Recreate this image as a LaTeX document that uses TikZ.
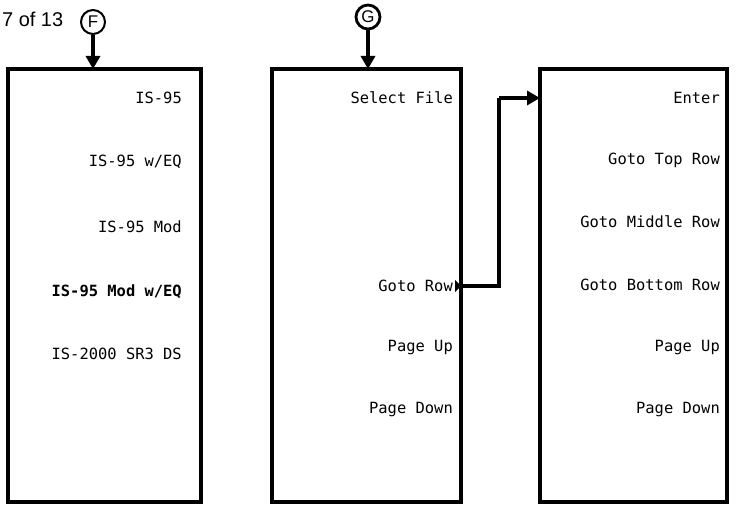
\documentclass[tikz,border=0pt]{standalone}
\usepackage{fontspec}
\setmainfont{Liberation Sans}
\newfontfamily\lcd{DejaVu Sans Mono}
\usetikzlibrary{arrows.meta}
\begin{document}
\begin{tikzpicture}[x=1bp,y=-1bp,
  menubox/.style={draw,line width=3.2bp,inner sep=0pt},
  key/.style={anchor=east,inner sep=0pt,font=\lcd\fontsize{15.5}{15.5}\selectfont},
  boldkey/.style={key,font=\lcd\bfseries\fontsize{15.5}{15.5}\selectfont},
  marker/.style={draw,circle,line width=2bp,minimum size=24bp,inner sep=0pt,font=\fontsize{17}{17}\selectfont},
  flow/.style={line width=3.2bp,-{Triangle[length=13bp,width=14bp]}},
  link/.style={line width=3.2bp}]
\useasboundingbox (0,0) rectangle (737,508);
% boxes
\draw[menubox] (8,69) rectangle (201,502);
\draw[menubox] (272,69) rectangle (461,502);
\draw[menubox] (540,69) rectangle (727,502);
\coordinate (b1top) at (93,69);
\coordinate (b2top) at (368,69);
% header
\node[anchor=west,inner sep=0pt,font=\fontsize{20}{20}\selectfont] (page) at (2,19) {7 of 13};
\node[marker] (F) at (93,22) {F};
\node[marker,line width=2.8bp] (G) at (368,17) {G};
\draw[flow] (F) -- (b1top);
\draw[flow] (G) -- (b2top);
% box 1
\node[key] (a1) at (182,98) {IS-95};
\node[key] (a2) at (182,162) {IS-95 w/EQ};
\node[key] (a3) at (182,227) {IS-95 Mod};
\node[boldkey] (a4) at (182,292) {IS-95 Mod w/EQ};
\node[key] (a5) at (182,354) {IS-2000 SR3 DS};
% box 2
\node[key] (b1) at (453,98) {Select File};
\node[key] (b2) at (453,286) {Goto Row};
\node[key] (b3) at (453,348) {Page Up};
\node[key] (b4) at (453,410) {Page Down};
% box 3
\node[key] (c1) at (720,98) {Enter};
\node[key] (c2) at (720,160) {Goto Top Row};
\node[key] (c3) at (720,222) {Goto Middle Row};
\node[key] (c4) at (720,285) {Goto Bottom Row};
\node[key] (c5) at (720,348) {Page Up};
\node[key] (c6) at (720,410) {Page Down};
% connector
\coordinate (gr) at (461,286);
\coordinate (en) at (540,98);
\fill (455,280) -- (461,286) -- (455,292) -- cycle;
\draw[link] (gr) -- (499,286) -- (499,98);
\draw[flow] (499,98) -- (en);
\end{tikzpicture}
\end{document}
